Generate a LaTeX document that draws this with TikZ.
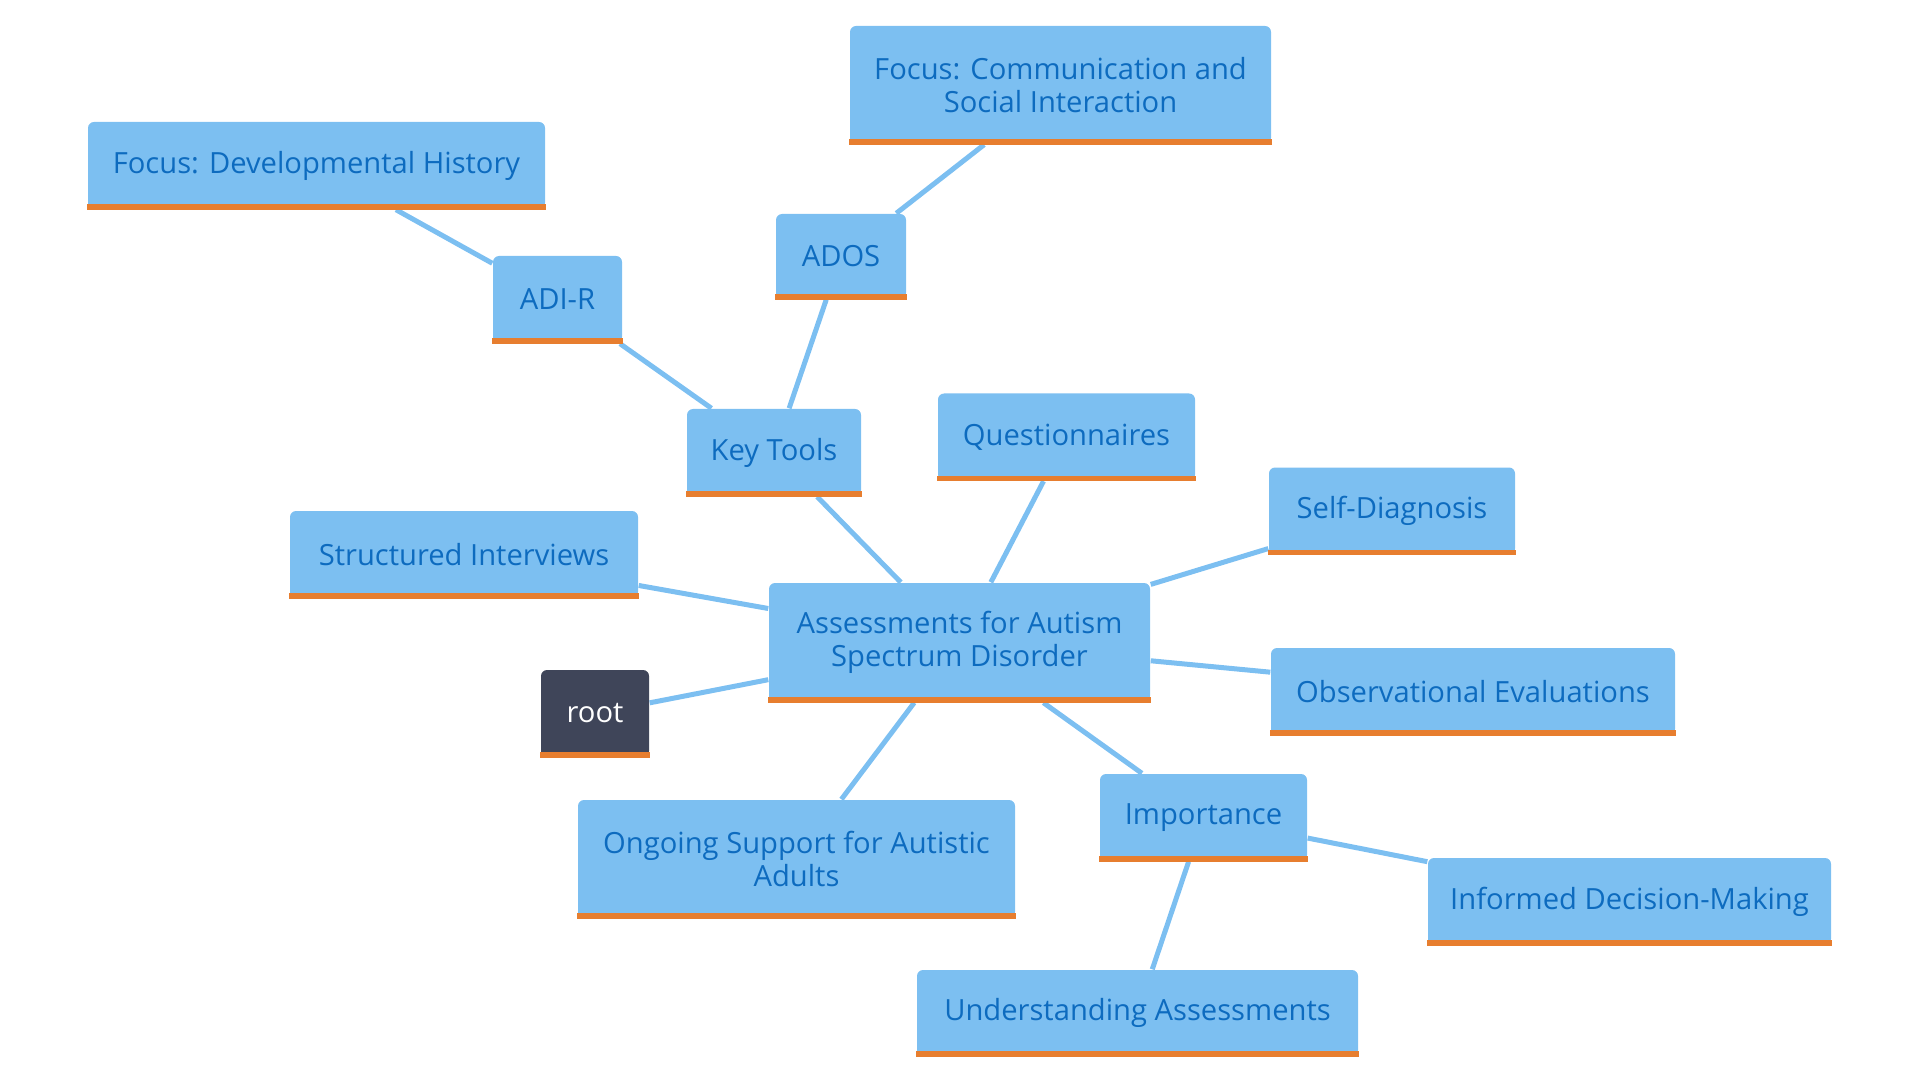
\documentclass[tikz,border=0pt]{standalone}
\usepackage{fontspec}
\setmainfont{Open Sans}
\usetikzlibrary{backgrounds}
\definecolor{boxblue}{HTML}{7CBFF1}
\definecolor{textblue}{HTML}{0D6BBF}
\definecolor{barorange}{HTML}{E77E2F}
\definecolor{rootgray}{HTML}{3F4559}

\begin{document}
\begin{tikzpicture}[
  box/.style={rectangle, fill=boxblue, text=textblue, rounded corners=0.06cm,
    align=center, inner sep=0pt, minimum height=0.87cm, font=\fontsize{8.3}{9.4}\selectfont},
  link/.style={draw=boxblue, line width=0.05cm}
]
\useasboundingbox (0,0) rectangle (19.2,-10.8);

\node[box, minimum width=3.81cm, minimum height=1.19cm] (1) at (9.595,-6.425) {Assessments for Autism\\Spectrum Disorder};
\node[box, fill=rootgray, text=white, minimum width=1.08cm] (2) at (5.95,-7.135) {root};
\node[box, minimum width=1.74cm] (3) at (7.74,-4.525) {Key Tools};
\node[box, minimum width=1.29cm] (4) at (5.575,-2.995) {ADI-R};
\node[box, minimum width=4.57cm] (5) at (3.165,-1.655) {Focus: Developmental History};
\node[box, minimum width=1.30cm, minimum height=0.85cm] (6) at (8.41,-2.565) {ADOS};
\node[box, minimum width=4.21cm, minimum height=1.18cm] (7) at (10.605,-0.85) {Focus: Communication and\\Social Interaction};
\node[box, minimum width=2.57cm] (8) at (10.665,-4.37) {Questionnaires};
\node[box, minimum width=2.46cm] (9) at (13.92,-5.11) {Self-Diagnosis};
\node[box, minimum width=3.48cm] (10) at (4.64,-5.545) {Structured Interviews};
\node[box, minimum width=4.04cm] (11) at (14.73,-6.915) {Observational Evaluations};
\node[box, minimum width=4.37cm, minimum height=1.18cm] (12) at (7.965,-8.59) {Ongoing Support for Autistic\\Adults};
\node[box, minimum width=2.07cm] (13) at (12.035,-8.175) {Importance};
\node[box, minimum width=4.03cm] (14) at (16.295,-9.015) {Informed Decision-Making};
\node[box, minimum width=4.41cm, minimum height=0.86cm] (15) at (11.375,-10.13) {Understanding Assessments};

% orange strip under every box
\foreach \n in {1,...,15}
  \fill[barorange] (\n.south west) rectangle ([yshift=0.055cm]\n.south east);

\begin{scope}[on background layer]
\draw[link] (2) -- (1);
\draw[link] (1) -- (3);
\draw[link] (3) -- (4);
\draw[link] (4) -- (5);
\draw[link] (3) -- (6);
\draw[link] (6) -- (7);
\draw[link] (1) -- (8);
\draw[link] (1) -- (9);
\draw[link] (1) -- (10);
\draw[link] (1) -- (11);
\draw[link] (1) -- (12);
\draw[link] (1) -- (13);
\draw[link] (13) -- (14);
\draw[link] (13) -- (15);
\end{scope}
\end{tikzpicture}
\end{document}
